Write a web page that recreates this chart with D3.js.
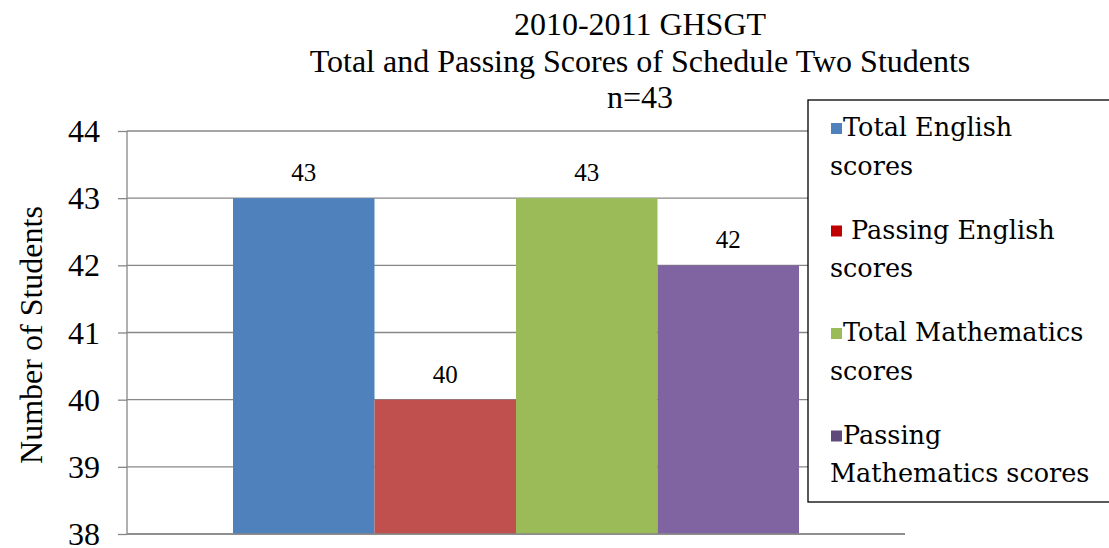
<!DOCTYPE html>
<html><head><meta charset="utf-8">
<script src="https://cdn.jsdelivr.net/npm/d3@7"></script>
<style>
body{margin:0;background:#fff}
svg{display:block}
svg text{font-family:'Liberation Serif','Times New Roman',serif;fill:#000}
svg text.leg{font-family:'DejaVu Serif',serif}
</style>
</head><body>
<svg id="c" width="1109" height="548"></svg>
<script>
const categories = ["Total English scores","Passing English scores","Total Mathematics scores","Passing Mathematics scores"];
const values = [43, 40, 43, 42];
const barColors = ["#4F81BD","#C0504D","#9BBB59","#8064A2"];
const legendColors = ["#4F81BD","#C00000","#9BBB59","#604A7B"];
const legendLines = [["Total English","scores"],["\u00a0Passing English","scores"],["Total Mathematics","scores"],["Passing","Mathematics scores"]];
const yTicks = [38,39,40,41,42,43,44];
const titleLines = ["2010-2011 GHSGT","Total and Passing Scores of Schedule Two Students","n=43"];

const svg = d3.select("#c");
const L = 127, R = 905, T = 131, B = 534;
const y = d3.scaleLinear().domain([38,44]).range([B,T]);
const x = d3.scaleBand().domain(categories).range([233,799]).padding(0);

// gridlines
svg.append("g").selectAll("line").data(yTicks).join("line")
  .attr("x1",L).attr("x2",R).attr("y1",d=>y(d)).attr("y2",d=>y(d))
  .attr("stroke","#878787").attr("stroke-width",1.3);

// y axis
const ax = svg.append("g").attr("transform",`translate(${L},0)`)
  .call(d3.axisLeft(y).tickValues(yTicks).tickSize(9).tickPadding(18).tickFormat(d3.format("d")));
ax.selectAll("line,path").attr("stroke","#878787").attr("stroke-width",1.3);
ax.select(".domain").attr("d",`M0,${T}V${B}`);
ax.selectAll("text").attr("font-size",32).attr("dy","0.33em");

// bars
svg.append("g").selectAll("rect").data(values).join("rect")
  .attr("x",(d,i)=>x(categories[i])).attr("width",x.bandwidth())
  .attr("y",d=>y(d)).attr("height",d=>B-y(d)).attr("fill",(d,i)=>barColors[i]);

// bottom axis line
svg.append("line").attr("x1",L).attr("x2",R).attr("y1",B).attr("y2",B).attr("stroke","#878787").attr("stroke-width",1.3);

// data labels
svg.append("g").selectAll("text").data(values).join("text")
  .attr("x",(d,i)=>x(categories[i])+x.bandwidth()/2).attr("y",d=>y(d)-17)
  .attr("text-anchor","middle").attr("font-size",25).text(d=>d);

// title
svg.append("g").selectAll("text").data(titleLines).join("text")
  .attr("x",640).attr("y",(d,i)=>35+i*36.5).attr("text-anchor","middle")
  .attr("font-size",32).text(d=>d);

// y axis title
svg.append("text").attr("transform","translate(42,335) rotate(-90)").attr("text-anchor","middle")
  .attr("font-size",32).text("Number of Students");

// legend
const lg = svg.append("g");
lg.append("rect").attr("x",808).attr("y",100).attr("width",310).attr("height",402)
  .attr("fill","#fff").attr("stroke","#000").attr("stroke-width",1.3);
legendLines.forEach((ls,i)=>{
  const by = 136 + i*102.5;
  lg.append("rect").attr("x",831).attr("y",by-13).attr("width",11).attr("height",11).attr("fill",legendColors[i]);
  lg.append("text").attr("class","leg").attr("x",843).attr("y",by).attr("font-size",25.5).text(ls[0]);
  lg.append("text").attr("class","leg").attr("x",830).attr("y",by+38.5).attr("font-size",25.5).text(ls[1]);
});
</script>
</body></html>
